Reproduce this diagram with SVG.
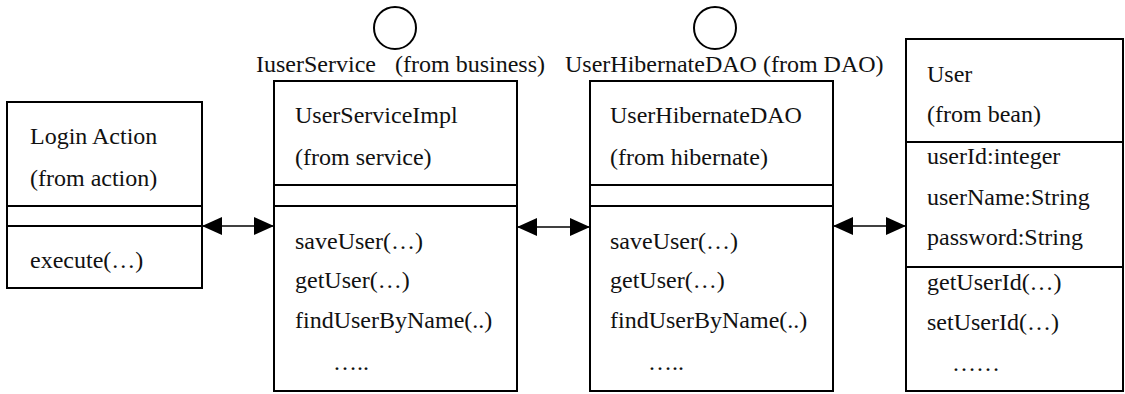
<svg xmlns="http://www.w3.org/2000/svg" width="1125" height="394" viewBox="0 0 1125 394">
<style>
.box{fill:#fff;stroke:#000;stroke-width:2}
.div{stroke:#000;stroke-width:2}
.t{font-family:"Liberation Serif","Times New Roman",serif;font-size:24px;fill:#111}
.iface{fill:none;stroke:#000;stroke-width:2}
.conn{stroke:#000;stroke-width:1.6;fill:none}
</style>
<defs>
<marker id="ah" viewBox="0 0 20 18" refX="20" refY="9" markerWidth="20" markerHeight="18" markerUnits="userSpaceOnUse" orient="auto-start-reverse">
<path d="M0,0 L20,9 L0,18 Z" fill="#000"/>
</marker>
</defs>
<rect width="1125" height="394" fill="#fff"/>

<g id="login-action">
<rect class="box" x="7" y="102" width="195" height="186"/>
<line class="div" x1="7" y1="206" x2="202" y2="206"/>
<line class="div" x1="7" y1="226" x2="202" y2="226"/>
<text class="t" x="30" y="144">Login Action</text>
<text class="t" x="30" y="186">(from action)</text>
<text class="t" x="30" y="268">execute(…)</text>
</g>

<g id="user-service-impl">
<circle class="iface" cx="395" cy="28" r="21"/>
<text class="t" x="256" y="72">IuserService<tspan x="395">(from business)</tspan></text>
<rect class="box" x="274" y="81" width="243" height="310"/>
<line class="div" x1="274" y1="185" x2="517" y2="185"/>
<line class="div" x1="274" y1="206" x2="517" y2="206"/>
<text class="t" x="295" y="123">UserServiceImpl</text>
<text class="t" x="295" y="165">(from service)</text>
<text class="t" x="295" y="249">saveUser(…)</text>
<text class="t" x="295" y="288">getUser(…)</text>
<text class="t" x="295" y="328">findUserByName(..)</text>
<text class="t" x="333" y="370">…..</text>
</g>

<g id="user-hibernate-dao">
<circle class="iface" cx="715" cy="28" r="21"/>
<text class="t" x="565" y="72">UserHibernateDAO (from DAO)</text>
<rect class="box" x="590" y="81" width="243" height="310"/>
<line class="div" x1="590" y1="185" x2="833" y2="185"/>
<line class="div" x1="590" y1="206" x2="833" y2="206"/>
<text class="t" x="610" y="123">UserHibernateDAO</text>
<text class="t" x="610" y="165">(from hibernate)</text>
<text class="t" x="610" y="249">saveUser(…)</text>
<text class="t" x="610" y="288">getUser(…)</text>
<text class="t" x="610" y="328">findUserByName(..)</text>
<text class="t" x="648" y="370">…..</text>
</g>

<g id="user">
<rect class="box" x="906" y="39" width="217" height="352"/>
<line class="div" x1="906" y1="142" x2="1123" y2="142"/>
<line class="div" x1="906" y1="267" x2="1123" y2="267"/>
<text class="t" x="927" y="82">User</text>
<text class="t" x="927" y="122">(from bean)</text>
<text class="t" x="927" y="164">userId:integer</text>
<text class="t" x="927" y="205">userName:String</text>
<text class="t" x="927" y="245">password:String</text>
<text class="t" x="927" y="290">getUserId(…)</text>
<text class="t" x="927" y="330">setUserId(…)</text>
<text class="t" x="952" y="371">……</text>
</g>

<g id="connectors">
<line class="conn" x1="202" y1="226" x2="274" y2="226" marker-start="url(#ah)" marker-end="url(#ah)"/>
<line class="conn" x1="517" y1="227" x2="590" y2="227" marker-start="url(#ah)" marker-end="url(#ah)"/>
<line class="conn" x1="833" y1="226" x2="906" y2="226" marker-start="url(#ah)" marker-end="url(#ah)"/>
</g>
</svg>
